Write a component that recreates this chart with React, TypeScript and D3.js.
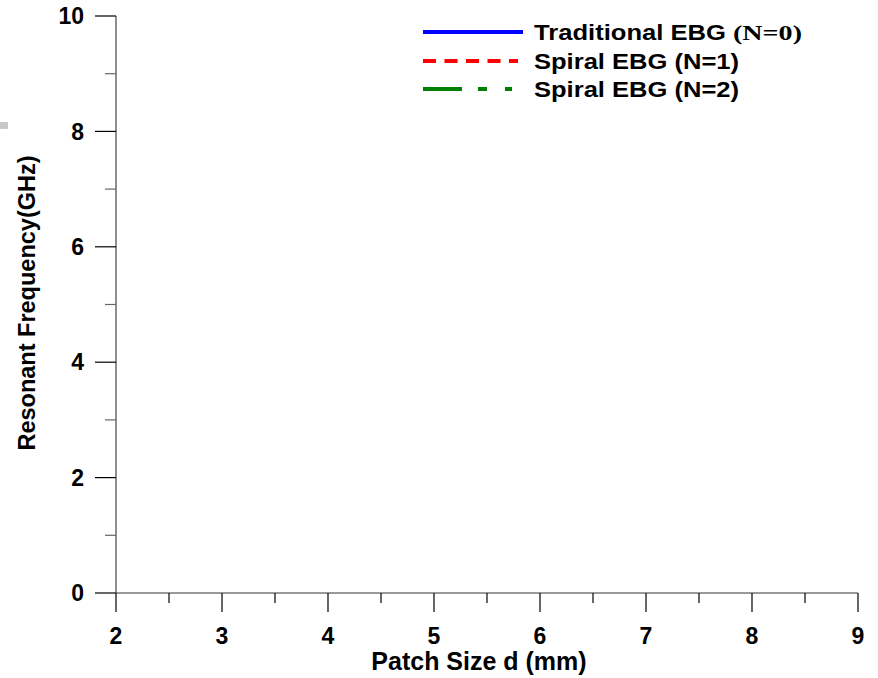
import React from "react";
import * as d3 from "d3";

const xTicks = [2, 3, 4, 5, 6, 7, 8, 9];
const xMinorTicks = [2.5, 3.5, 4.5, 5.5, 6.5, 7.5, 8.5];
const yTicks = [0, 2, 4, 6, 8, 10];
const yMinorTicks = [1, 3, 5, 7, 9];
const seriesNames = ["Traditional EBG ", "Spiral EBG (N=1)", "Spiral EBG (N=2)"];
const seriesSuffix = ["(N=0)", "", ""];
const seriesColors = ["#0000ff", "#ff0000", "#008000"];
const seriesDash = ["none", "13,8.5", "39,16,9,18,7,200"];
// No data curves are visible in the reference; series values are empty.
const traditionalValues: [number, number][] = [];
const spiral1Values: [number, number][] = [];
const spiral2Values: [number, number][] = [];
const allSeries = [traditionalValues, spiral1Values, spiral2Values];

export default function App() {
  const W = 878, H = 678;
  const x = d3.scaleLinear().domain([2, 9]).range([116, 858]);
  const y = d3.scaleLinear().domain([0, 10]).range([593, 16]);
  const line = d3.line<[number, number]>().x(d => x(d[0])).y(d => y(d[1]));
  const font = "Arial, 'Liberation Sans', sans-serif";
  const legendY = [32, 61, 89];
  const legendW = [192, 205, 205];
  const legendEnd = [523, 518, 513];
  return (
    <svg width={W} height={H} style={{ position: "absolute", left: 0, top: 0 }}>
      <rect x={0} y={0} width={W} height={H} fill="#fff" />
      <rect x={0} y={122} width={8} height={7} fill="#c8c8c8" />
      {/* axes */}
      <line x1={116} x2={116} y1={y(10)} y2={y(0)} stroke="#444" strokeWidth={1.2} />
      <line x1={x(2)} x2={x(9)} y1={593} y2={593} stroke="#777" strokeWidth={1.5} />
      {yTicks.map(t => (
        <g key={"y" + t}>
          <line x1={95} x2={116} y1={y(t)} y2={y(t)} stroke="#000" strokeWidth={1.2} />
          <text x={84} y={y(t)} dy="0.36em" textAnchor="end" fontFamily={font} fontWeight="bold" fontSize={23}>{t}</text>
        </g>
      ))}
      {yMinorTicks.map(t => (
        <line key={"ym" + t} x1={105} x2={116} y1={y(t)} y2={y(t)} stroke="#666" strokeWidth={1.2} />
      ))}
      {xTicks.map(t => (
        <g key={"x" + t}>
          <line x1={x(t)} x2={x(t)} y1={593} y2={612} stroke="#000" strokeWidth={1.2} />
          <text x={x(t)} y={636} dy="0.36em" textAnchor="middle" fontFamily={font} fontWeight="bold" fontSize={23}>{t}</text>
        </g>
      ))}
      {xMinorTicks.map(t => (
        <line key={"xm" + t} x1={x(t)} x2={x(t)} y1={593} y2={603} stroke="#000" strokeWidth={1.2} />
      ))}
      <text x={479} y={661} dy="0.36em" textAnchor="middle" fontFamily={font} fontWeight="bold" fontSize={25}>Patch Size d (mm)</text>
      <text transform="translate(27,303) rotate(-90)" dy="0.36em" textAnchor="middle" fontFamily={font} fontWeight="bold" fontSize={23.5}>Resonant Frequency(GHz)</text>
      {/* series */}
      {allSeries.map((s, i) => (
        <path key={"s" + i} d={line(s) || ""} fill="none" stroke={seriesColors[i]} strokeWidth={3} strokeDasharray={seriesDash[i]} />
      ))}
      {/* legend */}
      {seriesNames.map((n, i) => (
        <g key={"l" + i}>
          <line x1={423} x2={legendEnd[i]} y1={legendY[i]} y2={legendY[i]} stroke={seriesColors[i]} strokeWidth={4} strokeDasharray={seriesDash[i]} />
          <text x={534} y={legendY[i]} dy="0.36em" fontFamily={font} fontWeight="bold" fontSize={22} textLength={legendW[i]} lengthAdjust="spacingAndGlyphs">{n}</text>
          {seriesSuffix[i] && (
            <text x={733} y={legendY[i]} dy="0.36em" fontFamily="'Liberation Serif', 'Times New Roman', serif" fontWeight="bold" fontSize={22} textLength={69} lengthAdjust="spacingAndGlyphs">{seriesSuffix[i]}</text>
          )}
        </g>
      ))}
    </svg>
  );
}
